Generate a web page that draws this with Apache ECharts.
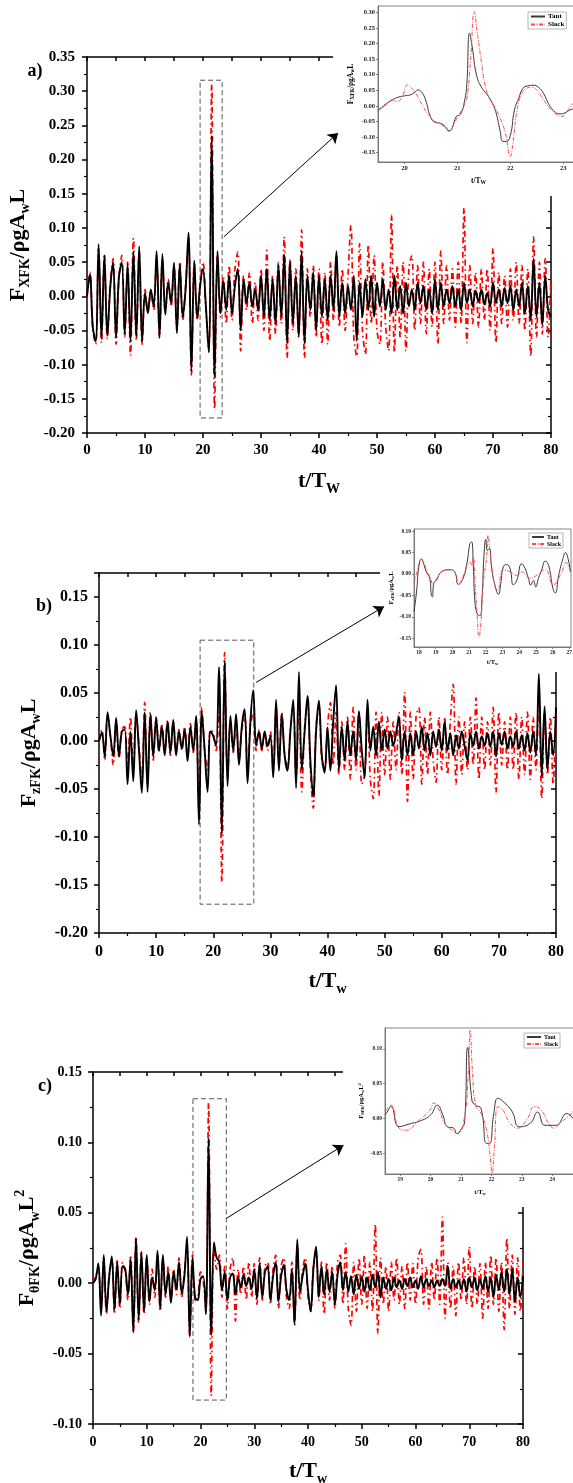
<!DOCTYPE html>
<html>
<head>
<meta charset="utf-8">
<title>Froude-Krylov force, taut vs slack</title>
<script src="https://cdn.jsdelivr.net/npm/echarts@6.0.0/dist/echarts.min.js"></script>
<style>
  html, body { margin: 0; padding: 0; background: #fff; }
  #chart { width: 573px; height: 1483px; }
</style>
</head>
<body>
<div id="chart"></div>
<script>
// 主图采样间隔 (t/Tw)
var mainStep = 0.5;

// 图 a) F_XFK
var tautA = [
  0.000, 0.032, -0.045, -0.066, 0.076, -0.062, 0.060, -0.058, 0.012, 0.050,
  -0.061, 0.028, 0.050, -0.055, 0.047, -0.066, 0.066, -0.059, 0.073, -0.066,
  0.005, -0.025, 0.010, -0.015, 0.066, -0.061, 0.062, -0.027, 0.020, -0.010,
  0.049, -0.054, 0.047, -0.030, 0.010, 0.093, -0.110, 0.052, -0.032, 0.015,
  0.040, -0.015, -0.082, 0.235, -0.118, 0.066, -0.025, 0.022, -0.020, 0.030,
  -0.025, 0.015, 0.040, -0.050, 0.025, -0.010, 0.020, -0.015, 0.010, -0.020,
  0.030, -0.030, 0.040, -0.035, 0.025, -0.040, 0.045, -0.030, 0.061, -0.069,
  0.051, -0.040, 0.030, -0.059, 0.066, -0.069, 0.030, -0.020, 0.035, -0.050,
  0.030, -0.030, 0.025, -0.035, 0.030, -0.020, 0.066, -0.030, 0.020, -0.025,
  0.015, -0.020, 0.030, -0.065, 0.020, -0.030, 0.025, -0.020, 0.030, -0.030,
  0.020, -0.015, 0.025, -0.020, 0.010, -0.025, 0.030, -0.020, 0.015, -0.025,
  0.020, -0.015, 0.010, -0.020, 0.020, -0.010, 0.015, -0.020, 0.010, -0.025,
  0.025, -0.020, 0.020, -0.015, 0.010, -0.010, 0.015, -0.015, 0.010, -0.020,
  0.020, -0.010, 0.010, -0.015, 0.008, -0.008, 0.010, -0.012, 0.005, -0.015,
  0.020, -0.010, 0.010, -0.015, 0.012, -0.010, 0.015, -0.020, 0.010, -0.015,
  0.020, -0.025, 0.015, -0.035, 0.055, -0.030, 0.020, -0.042, 0.030, -0.020,
  -0.030
];
var slackA = [
  0.000, 0.035, -0.050, -0.070, 0.070, -0.068, 0.062, -0.062, 0.015, 0.055,
  -0.070, 0.025, 0.060, -0.060, 0.050, -0.087, 0.085, -0.065, 0.065, -0.070,
  0.010, -0.020, 0.005, -0.020, 0.060, -0.060, 0.055, -0.025, 0.025, -0.015,
  0.045, -0.050, 0.050, -0.035, 0.015, 0.085, -0.115, 0.050, -0.035, 0.020,
  0.050, -0.020, -0.080, 0.310, -0.165, 0.060, -0.030, 0.030, -0.040, 0.045,
  -0.035, 0.040, 0.065, -0.080, 0.030, -0.020, 0.035, -0.040, 0.020, -0.035,
  0.040, -0.050, 0.067, -0.065, 0.030, -0.055, 0.050, -0.040, 0.087, -0.090,
  0.055, -0.050, 0.040, -0.060, 0.097, -0.090, 0.040, -0.030, 0.045, -0.060,
  0.040, -0.070, 0.035, -0.070, 0.050, -0.035, 0.060, -0.045, 0.040, -0.050,
  0.030, 0.104, -0.060, -0.088, 0.077, -0.050, -0.085, 0.075, -0.040, 0.060,
  -0.050, -0.070, 0.050, -0.045, -0.080, 0.119, -0.082, 0.045, -0.060, 0.050,
  -0.080, 0.040, 0.060, -0.050, 0.045, -0.040, 0.050, -0.055, 0.040, -0.045,
  0.050, -0.070, 0.066, -0.040, 0.045, -0.035, 0.040, -0.045, 0.050, -0.040,
  0.129, -0.068, 0.045, -0.040, 0.035, -0.045, 0.040, -0.035, 0.040, -0.050,
  0.070, -0.068, 0.035, -0.040, 0.030, -0.045, 0.040, -0.035, 0.050, -0.040,
  0.045, -0.050, 0.040, -0.088, 0.087, -0.060, 0.050, -0.055, 0.055, -0.060,
  0.030
];

// 图 b) F_zFK
var tautB = [
  0.000, 0.009, -0.016, 0.030, 0.005, -0.016, 0.024, -0.016, 0.010, 0.012,
  -0.045, 0.010, -0.042, 0.032, -0.010, -0.054, 0.030, -0.053, 0.028, -0.016,
  0.024, -0.010, 0.015, -0.015, 0.020, -0.012, 0.022, -0.015, 0.010, -0.008,
  0.012, -0.021, 0.015, -0.010, 0.026, -0.087, 0.030, -0.010, -0.053, 0.010,
  0.005, -0.005, 0.077, -0.097, 0.084, -0.047, 0.026, -0.010, 0.028, -0.025,
  0.015, 0.033, -0.044, 0.020, 0.053, -0.005, 0.010, -0.008, 0.010, -0.005,
  0.005, -0.038, 0.043, -0.031, 0.028, -0.015, -0.031, 0.010, 0.043, -0.049,
  0.072, -0.030, 0.010, 0.047, -0.020, -0.058, 0.010, 0.042, -0.015, -0.033,
  0.014, -0.031, 0.020, 0.058, -0.030, 0.015, -0.020, 0.020, -0.015, 0.010,
  -0.020, 0.031, -0.010, -0.038, 0.043, -0.010, 0.015, -0.015, 0.020, -0.010,
  0.012, -0.008, 0.010, -0.005, 0.008, 0.025, -0.020, 0.010, -0.015, 0.008,
  -0.015, 0.010, -0.008, 0.015, -0.010, 0.008, -0.015, 0.010, -0.006, 0.012,
  -0.010, 0.020, -0.010, 0.008, -0.015, 0.006, -0.008, 0.010, -0.005, -0.020,
  0.008, -0.005, 0.010, -0.008, 0.005, -0.005, 0.008, -0.006, 0.010, -0.016,
  0.008, -0.004, 0.010, -0.008, 0.005, -0.006, 0.010, -0.008, 0.006, -0.010,
  0.008, -0.012, 0.010, -0.015, 0.070, -0.037, 0.036, -0.030, 0.010, -0.015,
  0.035
];
var slackB = [
  0.000, 0.012, -0.020, 0.026, 0.004, -0.025, 0.020, -0.018, 0.012, 0.015,
  -0.030, 0.025, -0.030, 0.028, -0.005, -0.040, 0.040, -0.045, 0.030, -0.020,
  0.025, -0.012, 0.018, -0.012, 0.022, -0.015, 0.020, -0.012, 0.012, -0.010,
  0.015, -0.018, 0.018, -0.012, 0.022, -0.070, 0.035, -0.010, -0.030, 0.012,
  0.008, -0.010, 0.030, -0.147, 0.092, -0.040, 0.020, -0.012, 0.020, -0.020,
  0.012, 0.025, -0.030, 0.015, 0.030, -0.010, 0.012, -0.010, 0.008, -0.010,
  0.010, -0.030, 0.035, -0.025, 0.030, -0.015, -0.025, 0.012, 0.035, -0.040,
  0.040, -0.053, 0.015, 0.040, -0.030, -0.070, 0.015, 0.035, -0.020, -0.030,
  0.015, 0.040, -0.025, 0.030, -0.035, 0.020, -0.030, 0.025, -0.040, 0.035,
  -0.030, 0.030, -0.045, -0.035, 0.035, -0.040, -0.060, 0.030, -0.057, 0.030,
  -0.035, 0.025, -0.040, 0.020, -0.030, 0.030, -0.035, 0.051, -0.063, 0.030,
  -0.040, 0.025, 0.035, -0.045, 0.025, -0.035, 0.030, -0.020, -0.043, 0.025,
  -0.030, 0.025, -0.035, 0.020, 0.059, -0.045, 0.025, -0.035, 0.020, -0.030,
  0.025, -0.025, 0.045, -0.040, 0.025, -0.030, 0.020, -0.025, 0.035, -0.054,
  0.030, -0.025, 0.020, -0.030, 0.025, -0.030, 0.030, -0.040, 0.025, -0.035,
  0.030, -0.040, 0.025, -0.030, 0.045, -0.060, 0.030, -0.035, 0.025, -0.045,
  0.030
];

// 图 c) F_θFK
var tautC = [
  0.000, 0.003, 0.014, -0.023, 0.020, -0.020, 0.004, 0.019, -0.019, 0.015,
  -0.015, 0.012, 0.010, -0.008, 0.017, -0.035, 0.032, -0.026, 0.022, -0.020,
  0.020, -0.013, 0.004, -0.005, 0.023, -0.018, 0.020, -0.008, 0.008, -0.014,
  0.008, -0.004, 0.015, -0.007, 0.005, 0.033, -0.038, 0.018, -0.010, -0.012,
  0.003, 0.005, -0.022, 0.103, -0.037, 0.029, 0.018, 0.015, -0.005, 0.008,
  -0.012, 0.004, 0.007, -0.008, 0.004, -0.003, 0.006, -0.002, 0.004, -0.004,
  0.010, -0.011, 0.014, -0.010, 0.008, 0.012, -0.012, 0.005, 0.015, -0.013,
  0.005, 0.013, -0.005, -0.012, 0.010, -0.029, 0.031, -0.006, 0.005, 0.014,
  -0.005, -0.020, 0.010, 0.026, -0.010, 0.012, -0.008, 0.010, -0.006, 0.008,
  -0.015, 0.006, 0.015, -0.005, 0.008, -0.006, 0.005, -0.008, 0.006, -0.004,
  0.005, -0.006, 0.004, -0.005, 0.006, -0.003, 0.008, -0.010, 0.004, -0.004,
  0.003, -0.005, 0.004, -0.003, 0.002, -0.004, 0.003, -0.002, 0.004, -0.003,
  0.002, -0.004, 0.005, -0.003, 0.003, -0.002, 0.002, -0.003, 0.002, -0.002,
  0.003, -0.002, 0.012, -0.004, 0.003, -0.003, 0.002, -0.004, 0.003, -0.006,
  0.004, -0.003, 0.004, -0.005, 0.003, -0.004, 0.005, -0.006, 0.004, -0.010,
  0.006, -0.005, 0.008, -0.006, 0.010, -0.008, 0.010, -0.013, 0.004, -0.010,
  0.005
];
var slackC = [
  0.000, 0.005, 0.012, -0.020, 0.018, -0.022, 0.006, 0.017, -0.022, 0.016,
  -0.018, 0.015, 0.008, -0.012, 0.020, -0.035, 0.033, -0.028, 0.022, -0.022,
  0.018, -0.015, 0.010, -0.010, 0.020, -0.020, 0.018, -0.010, 0.012, -0.012,
  0.010, -0.008, 0.018, -0.010, 0.008, 0.025, -0.038, 0.020, -0.012, -0.010,
  0.008, 0.002, -0.020, 0.128, -0.080, 0.025, 0.010, 0.020, -0.010, 0.012,
  -0.018, 0.010, 0.018, -0.027, 0.010, -0.008, 0.012, -0.012, 0.015, -0.010,
  0.014, -0.015, 0.018, -0.012, 0.012, 0.015, -0.015, 0.010, 0.020, -0.018,
  0.012, 0.018, -0.010, -0.018, 0.015, -0.030, 0.025, -0.012, 0.010, 0.018,
  -0.010, -0.020, 0.012, 0.022, -0.012, 0.015, -0.022, 0.015, -0.012, 0.012,
  -0.018, 0.015, 0.020, -0.015, 0.028, -0.018, -0.030, 0.015, -0.020, 0.018,
  -0.015, 0.020, -0.018, 0.015, -0.020, 0.042, -0.036, 0.018, -0.015, 0.012,
  -0.020, 0.015, -0.012, 0.018, -0.015, 0.012, -0.018, 0.015, -0.012, 0.014,
  -0.015, 0.018, 0.024, -0.015, 0.012, -0.018, 0.015, -0.012, 0.018, -0.015,
  0.047, -0.025, 0.015, -0.018, 0.012, -0.023, 0.015, -0.012, 0.018, -0.015,
  0.026, -0.018, 0.012, -0.015, 0.014, -0.025, 0.015, -0.018, 0.020, -0.015,
  0.018, -0.020, 0.015, -0.033, 0.032, -0.018, 0.020, -0.022, 0.018, -0.020,
  0.015
];

// 局部放大图 a)
var zoomTautTimeA = [19.5, 19.64, 19.77, 19.89, 20.0, 20.11, 20.21, 20.25, 20.31, 20.4,
  20.49, 20.58, 20.68, 20.77, 20.85, 20.9, 20.98, 21.06, 21.14, 21.18,
  21.23, 21.28, 21.37, 21.47, 21.59, 21.69, 21.75, 21.81, 21.86, 21.92,
  22.0, 22.08, 22.16, 22.24, 22.33, 22.44, 22.53, 22.63, 22.72, 22.82,
  22.94, 23.04, 23.13, 23.19, 23.3];
var zoomTautA = [-0.016, 0.003, 0.019, 0.028, 0.032, 0.035, 0.046, 0.051, 0.047, 0.019,
  -0.034, -0.053, -0.056, -0.066, -0.080, -0.072, -0.034, -0.027, 0.019, 0.072,
  0.233, 0.190, 0.094, 0.056, 0.030, -0.002, -0.034, -0.082, -0.114, -0.114,
  -0.096, -0.013, 0.024, 0.056, 0.064, 0.066, 0.060, 0.040, 0.008, -0.015,
  -0.026, -0.022, -0.013, -0.010, -0.005];
var zoomSlackTimeA = [19.5, 19.64, 19.77, 19.86, 19.96, 20.06, 20.14, 20.25, 20.35, 20.46,
  20.58, 20.71, 20.85, 20.94, 21.03, 21.12, 21.18, 21.25, 21.32, 21.37,
  21.45, 21.53, 21.62, 21.72, 21.81, 21.91, 22.0, 22.05, 22.13, 22.22,
  22.31, 22.41, 22.5, 22.63, 22.75, 22.88, 22.97, 23.07, 23.19, 23.3];
var zoomSlackA = [-0.013, 0.006, 0.019, 0.014, 0.030, 0.067, 0.056, 0.030, -0.002, -0.029,
  -0.050, -0.061, -0.082, -0.056, -0.029, -0.002, 0.024, 0.147, 0.302, 0.243,
  0.147, 0.062, 0.019, -0.008, -0.040, -0.088, -0.163, -0.120, -0.013, 0.040,
  0.056, 0.060, 0.051, 0.019, -0.008, -0.029, -0.034, -0.018, 0.008, 0.015];

// 局部放大图 b)
var zoomTautTimeB = [17.7, 17.85, 18.0, 18.14, 18.24, 18.44, 18.64, 18.74, 18.8, 18.88,
  19.04, 19.34, 19.84, 20.14, 20.36, 20.64, 20.88, 21.05, 21.15, 21.25,
  21.35, 21.49, 21.65, 21.77, 21.89, 22.0, 22.09, 22.21, 22.35, 22.55,
  22.75, 22.91, 23.05, 23.25, 23.45, 23.65, 23.85, 24.15, 24.35, 24.55,
  24.69, 24.85, 24.99, 25.15, 25.35, 25.55, 25.76, 26.02, 26.16, 26.36,
  26.62, 26.76, 26.9, 27.06];
var zoomTautB = [-0.088, -0.042, 0.020, 0.035, 0.028, 0.005, -0.010, -0.050, -0.053, -0.022,
  -0.015, 0.005, 0.010, 0.005, -0.024, -0.010, 0.028, 0.071, 0.075, 0.020,
  -0.065, -0.093, -0.097, -0.058, 0.044, 0.081, 0.055, 0.060, 0.013, -0.026,
  -0.047, -0.018, 0.017, 0.022, 0.013, -0.025, -0.015, 0.024, 0.013, -0.010,
  -0.026, -0.015, -0.030, -0.010, 0.010, 0.030, 0.020, -0.034, -0.044, -0.003,
  0.036, 0.050, 0.040, 0.005];
var zoomSlackTimeB = [17.7, 17.85, 18.0, 18.14, 18.3, 18.5, 18.7, 18.8, 18.9, 19.04,
  19.34, 19.84, 20.14, 20.36, 20.64, 20.88, 21.05, 21.15, 21.25, 21.35,
  21.49, 21.59, 21.69, 21.85, 22.05, 22.13, 22.2, 22.35, 22.55, 22.7,
  23.05, 23.45, 23.85, 24.15, 24.65, 25.05, 25.55, 26.05, 26.25, 26.6,
  26.8, 27.06];
var zoomSlackB = [-0.020, 0.000, 0.025, 0.035, 0.025, 0.005, -0.010, -0.022, -0.018, -0.012,
  0.005, 0.010, 0.005, -0.024, -0.005, 0.020, 0.028, 0.020, 0.040, -0.020,
  -0.100, -0.147, -0.120, -0.020, 0.040, 0.091, 0.070, 0.020, -0.030, -0.038,
  0.010, 0.005, -0.003, 0.005, -0.010, -0.003, 0.010, -0.025, -0.018, 0.010,
  0.027, 0.005];

// 局部放大图 c)
var zoomTautTimeC = [18.5, 18.54, 18.7, 18.96, 19.3, 19.7, 20.0, 20.22, 20.4, 20.55,
  20.76, 20.86, 21.03, 21.12, 21.22, 21.36, 21.48, 21.66, 21.84, 21.94,
  22.08, 22.22, 22.44, 22.68, 22.92, 23.28, 23.52, 23.76, 24.12, 24.48,
  24.75];
var zoomTautC = [0.005, 0.007, 0.017, -0.012, -0.008, -0.003, 0.005, 0.019, 0.005, -0.012,
  -0.014, -0.022, -0.014, -0.005, 0.102, 0.026, 0.019, 0.014, -0.036, -0.036,
  0.007, 0.029, 0.022, 0.010, -0.012, -0.007, 0.009, -0.010, -0.010, 0.007,
  -0.004];
var zoomSlackTimeC = [18.5, 18.54, 18.7, 18.96, 19.2, 19.56, 19.98, 20.1, 20.28, 20.46,
  20.7, 20.88, 21.1, 21.24, 21.3, 21.38, 21.48, 21.66, 21.84, 21.96,
  22.02, 22.1, 22.22, 22.38, 22.62, 22.86, 23.16, 23.42, 23.64, 23.88,
  24.06, 24.3, 24.54, 24.75];
var zoomSlackC = [0.010, 0.012, 0.019, -0.014, -0.017, -0.005, 0.012, 0.022, 0.012, -0.007,
  -0.017, -0.022, -0.002, 0.065, 0.127, 0.065, 0.019, 0.007, -0.017, -0.055,
  -0.079, -0.041, 0.017, 0.012, -0.007, -0.014, -0.002, 0.017, 0.012, -0.007,
  -0.014, -0.005, 0.003, 0.014];

// 刻度标签
var zoomYTicksA = [-0.15, -0.10, -0.05, 0.00, 0.05, 0.10, 0.15, 0.20, 0.25, 0.30];
var zoomXTicksA = [20, 21, 22, 23];
var zoomYTicksB = [-0.15, -0.10, -0.05, 0.00, 0.05, 0.10];
var zoomXTicksB = [18, 19, 20, 21, 22, 23, 24, 25, 26, 27];
var zoomYTicksC = [-0.05, 0.00, 0.05, 0.10];
var zoomXTicksC = [19, 20, 21, 22, 23, 24];

var FONT = "'Liberation Serif', 'Times New Roman', serif";
var TAUT_ZOOM = '#3a3a3a';
var SLACK_ZOOM = '#ff4a4a';

function mainPairs(values) {
    var out = [];
    for (var i = 0; i < values.length; i++) {
        out.push([i * mainStep, values[i]]);
    }
    return out;
}

function zipPairs(times, values) {
    return values.map(function (v, i) { return [times[i], v]; });
}

function fmt2(v) {
    if (Math.abs(v) < 1e-9) return '0.00';
    return v.toFixed(2);
}

// 带上下标的坐标轴名称样式
function nameStyle(size, sub) {
    return {
        fontFamily: FONT,
        fontWeight: 'bold',
        fontSize: size,
        color: '#000',
        rich: {
            b: { fontFamily: FONT, fontWeight: 'bold', fontSize: size, lineHeight: Math.round(size * 1.3), color: '#000' },
            s: { fontFamily: FONT, fontWeight: 'bold', fontSize: sub, lineHeight: sub, verticalAlign: 'bottom', color: '#000' },
            p: { fontFamily: FONT, fontWeight: 'bold', fontSize: sub, lineHeight: sub, verticalAlign: 'top', color: '#000' }
        }
    };
}

var grids = [];
var xAxes = [];
var yAxes = [];
var series = [];
var legends = [];
var graphics = [];

var blackLine = { color: '#000', width: 1.5 };

function addMain(p) {
    var gi = grids.length;
    grids.push({ left: p.left, top: p.top, width: p.width, height: p.height, outerBoundsMode: 'none', containLabel: false });

    var xi = xAxes.length;
    xAxes.push({
        type: 'value', gridIndex: gi, position: 'bottom', min: 0, max: 80, interval: 10,
        axisLine: { show: true, onZero: false, lineStyle: blackLine },
        axisTick: { show: true, length: 5, lineStyle: blackLine },
        minorTick: { show: true, splitNumber: 2, length: 3, lineStyle: { color: '#000', width: 1.2 } },
        splitLine: { show: false },
        axisLabel: { fontFamily: FONT, fontWeight: 'bold', fontSize: p.font, color: '#000', margin: p.xMargin },
        name: p.xName, nameLocation: 'middle', nameGap: p.xGap, nameTextStyle: nameStyle(22, 14)
    });
    xAxes.push({
        type: 'value', gridIndex: gi, position: 'top', min: 0, max: 80, interval: 5,
        axisLine: { show: true, onZero: false, lineStyle: blackLine },
        axisTick: { show: true, inside: true, length: 4, lineStyle: blackLine },
        axisLabel: { show: false }, splitLine: { show: false }
    });

    var yi = yAxes.length;
    yAxes.push({
        type: 'value', gridIndex: gi, position: 'left', min: p.yMin, max: p.yMax, interval: 0.05,
        axisLine: { show: true, onZero: false, lineStyle: blackLine },
        axisTick: { show: true, length: 5, lineStyle: blackLine },
        minorTick: { show: true, splitNumber: 2, length: 3, lineStyle: { color: '#000', width: 1.2 } },
        splitLine: { show: false },
        axisLabel: { fontFamily: FONT, fontWeight: 'bold', fontSize: p.font, color: '#000', margin: p.yMargin,
            formatter: fmt2, showMaxLabel: p.showMax },
        name: p.yName, nameLocation: 'middle', nameRotate: 90, nameGap: p.yGap, nameTextStyle: nameStyle(22, 14)
    });
    yAxes.push({
        type: 'value', gridIndex: gi, position: 'right', min: p.yMin, max: p.yMax, interval: 0.05,
        axisLine: { show: true, onZero: false, lineStyle: blackLine },
        axisTick: { show: true, inside: true, length: 5, lineStyle: blackLine },
        minorTick: { show: true, splitNumber: 2, length: 3, lineStyle: { color: '#000', width: 1.2 } },
        axisLabel: { show: false }, splitLine: { show: false }
    });

    // 红色点划线在下, 黑色实线在上
    series.push({
        type: 'line', name: 'Slack ' + p.tag, xAxisIndex: xi, yAxisIndex: yi,
        data: mainPairs(p.slack), symbol: 'none', smooth: 0.35, z: 2,
        lineStyle: { color: '#ff0000', width: 1.7, type: [6, 3.5, 1.5, 3.5] }
    });
    series.push({
        type: 'line', name: 'Taut ' + p.tag, xAxisIndex: xi, yAxisIndex: yi,
        data: mainPairs(p.taut), symbol: 'none', smooth: 0.35, z: 3,
        lineStyle: { color: '#000', width: 1.9 },
        markArea: {
            silent: true,
            itemStyle: { color: 'rgba(0,0,0,0)', borderColor: '#555', borderWidth: 1, borderType: [5, 3] },
            data: [[{ coord: p.box[0] }, { coord: p.box[1] }]]
        }
    });
    // 指向放大图的箭头
    series.push({
        type: 'line', name: 'arrow ' + p.tag, xAxisIndex: xi, yAxisIndex: yi,
        data: [], zlevel: 1, z: 10, silent: true,
        markLine: {
            zlevel: 1, z: 10, silent: true, symbol: ['none', 'arrow'], symbolSize: 10,
            lineStyle: { color: '#000', width: 1, type: 'solid' },
            label: { show: false },
            data: [[{ coord: p.arrow[0] }, { coord: p.arrow[1] }]]
        }
    });

    graphics.push({
        type: 'text', x: p.labelPos[0], y: p.labelPos[1],
        style: { text: p.tag + ')', fontFamily: FONT, fontWeight: 'bold', fontSize: 18, fill: '#000',
            align: 'center', verticalAlign: 'middle', textAlign: 'center', textVerticalAlign: 'middle' }
    });
    // 白底遮住主图右上角
    graphics.push({
        type: 'rect', zlevel: 1, z: 0, silent: true,
        shape: { x: p.cover[0], y: p.cover[1], width: p.cover[2], height: p.cover[3] },
        style: { fill: '#fff' }
    });
}

function addZoom(p) {
    var gi = grids.length;
    grids.push({ left: p.left, top: p.top, width: p.width, height: p.height, outerBoundsMode: 'none',
        containLabel: false, show: true, backgroundColor: '#fff', borderColor: '#666', borderWidth: 0.8, zlevel: 1, z: 1 });
    var grey = { color: '#666', width: 0.8 };
    var xi = xAxes.length;
    xAxes.push({
        type: 'value', gridIndex: gi, min: p.xMin, max: p.xMax, zlevel: 1, z: 3,
        axisLine: { show: true, onZero: false, lineStyle: grey },
        axisTick: { show: true, length: 2, lineStyle: grey, customValues: p.xTicks },
        splitLine: { show: false },
        axisLabel: { fontFamily: FONT, fontWeight: 'bold', fontSize: p.font, color: '#222', margin: 3,
            customValues: p.xTicks, formatter: function (v) { return String(v); } },
        name: p.xName, nameLocation: 'middle', nameGap: p.xGap, nameTextStyle: nameStyle(p.font + 1, p.font - 1)
    });
    var yi = yAxes.length;
    yAxes.push({
        type: 'value', gridIndex: gi, min: p.yMin, max: p.yMax, zlevel: 1, z: 3,
        axisLine: { show: true, onZero: false, lineStyle: grey },
        axisTick: { show: true, length: 2, lineStyle: grey, customValues: p.yTicks },
        splitLine: { show: false },
        axisLabel: { fontFamily: FONT, fontWeight: 'bold', fontSize: p.font, color: '#222', margin: 3,
            customValues: p.yTicks, formatter: fmt2 },
        name: p.yName, nameLocation: 'middle', nameRotate: 90, nameGap: p.yGap, nameTextStyle: nameStyle(p.font + 1, p.font - 1)
    });
    series.push({
        type: 'line', name: 'Taut', xAxisIndex: xi, yAxisIndex: yi, zlevel: 1, z: 4,
        data: zipPairs(p.tautT, p.taut), symbol: 'none', smooth: true,
        itemStyle: { color: TAUT_ZOOM },
        lineStyle: { color: TAUT_ZOOM, width: 1 }
    });
    series.push({
        type: 'line', name: 'Slack', xAxisIndex: xi, yAxisIndex: yi, zlevel: 1, z: 5,
        data: zipPairs(p.slackT, p.slack), symbol: 'none', smooth: true,
        itemStyle: { color: SLACK_ZOOM },
        lineStyle: { color: SLACK_ZOOM, width: 1, type: [4, 1.5, 1, 1.5] }
    });
    legends.push({
        data: ['Taut', 'Slack'], orient: 'vertical', left: p.legend[0], top: p.legend[1],
        zlevel: 1, z: 6, selectedMode: false,
        itemWidth: p.legend[2], itemHeight: 5, itemGap: 1, padding: [1, 2, 1, 2],
        itemStyle: { opacity: 0, borderWidth: 0 },
        backgroundColor: '#fff', borderColor: '#888', borderWidth: 0.6,
        textStyle: { fontFamily: FONT, fontWeight: 'bold', fontSize: p.font + 0.5, color: '#000', padding: [0, 0, 0, -2] }
    });
}

// ---- a) ----
addMain({
    tag: 'a', left: 87, top: 57, width: 464, height: 376, yMin: -0.20, yMax: 0.35, showMax: true,
    font: 15, xMargin: 10, yMargin: 12, xGap: 34, yGap: 43,
    xName: '{b|t/T}{s|W}', yName: '{b|F}{s|XFK}{b|/ρgA}{s|w}{b|L}',
    taut: tautA, slack: slackA,
    box: [[19.5, 0.316], [23.3, -0.178]], arrow: [[23.6, 0.087], [43.3, 0.239]],
    labelPos: [35, 71], cover: [333, 0, 240, 196]
});
addZoom({
    left: 378, top: 6, width: 201, height: 156, xMin: 19.5, xMax: 23.3, yMin: -0.18, yMax: 0.32,
    font: 6.5, xGap: 14, yGap: 22, xTicks: zoomXTicksA, yTicks: zoomYTicksA,
    xName: '{b|t/T}{s|W}', yName: '{b|F}{s|XFK}{b|/ρgA}{s|w}{b|L}',
    tautT: zoomTautTimeA, taut: zoomTautA, slackT: zoomSlackTimeA, slack: zoomSlackA,
    legend: [528, 12, 14]
});

// ---- b) ----
addMain({
    tag: 'b', left: 99, top: 573, width: 457, height: 360, yMin: -0.20, yMax: 0.175, showMax: false,
    font: 16, xMargin: 11, yMargin: 11, xGap: 34, yGap: 43,
    xName: '{b|t/T}{s|w}', yName: '{b|F}{s|zFK}{b|/ρgA}{s|w}{b|L}',
    taut: tautB, slack: slackB,
    box: [[17.7, 0.105], [27.1, -0.17]], arrow: [[27.5, 0.061], [49.9, 0.14]],
    labelPos: [44, 606], cover: [380, 510, 193, 162]
});
addZoom({
    left: 414, top: 529, width: 157, height: 118, xMin: 17.7, xMax: 27.1, yMin: -0.17, yMax: 0.105,
    font: 5.5, xGap: 11, yGap: 17, xTicks: zoomXTicksB, yTicks: zoomYTicksB,
    xName: '{b|t/T}{s|w}', yName: '{b|F}{s|zFK}{b|/ρgA}{s|w}{b|L}',
    tautT: zoomTautTimeB, taut: zoomTautB, slackT: zoomSlackTimeB, slack: zoomSlackB,
    legend: [529, 533, 12]
});

// ---- c) ----
addMain({
    tag: 'c', left: 93, top: 1072, width: 430, height: 352, yMin: -0.10, yMax: 0.15, showMax: true,
    font: 14, xMargin: 11, yMargin: 11, xGap: 33, yGap: 38,
    xName: '{b|t/T}{s|w}', yName: '{b|F}{s|θFK}{b|/ρgA}{s|w}{b|L}{p|2}',
    taut: tautC, slack: slackC,
    box: [[18.6, 0.131], [24.8, -0.083]], arrow: [[24.8, 0.046], [46.6, 0.098]],
    labelPos: [45, 1086], cover: [343, 1000, 230, 207]
});
addZoom({
    left: 385, top: 1028, width: 190, height: 146, xMin: 18.5, xMax: 24.75, yMin: -0.08, yMax: 0.13,
    font: 5.5, xGap: 14, yGap: 20, xTicks: zoomXTicksC, yTicks: zoomYTicksC,
    xName: '{b|t/T}{s|w}', yName: '{b|F}{s|θFK}{b|/ρgA}{s|w}{b|L}{p|2}',
    tautT: zoomTautTimeC, taut: zoomTautC, slackT: zoomSlackTimeC, slack: zoomSlackC,
    legend: [524, 1033, 14]
});

var myChart = echarts.init(document.getElementById('chart'), null, { renderer: 'canvas' });
var option = {
    animation: false,
    backgroundColor: '#fff',
    grid: grids,
    xAxis: xAxes,
    yAxis: yAxes,
    legend: legends,
    graphic: { elements: graphics },
    series: series
};
myChart.setOption(option);
</script>
</body>
</html>
